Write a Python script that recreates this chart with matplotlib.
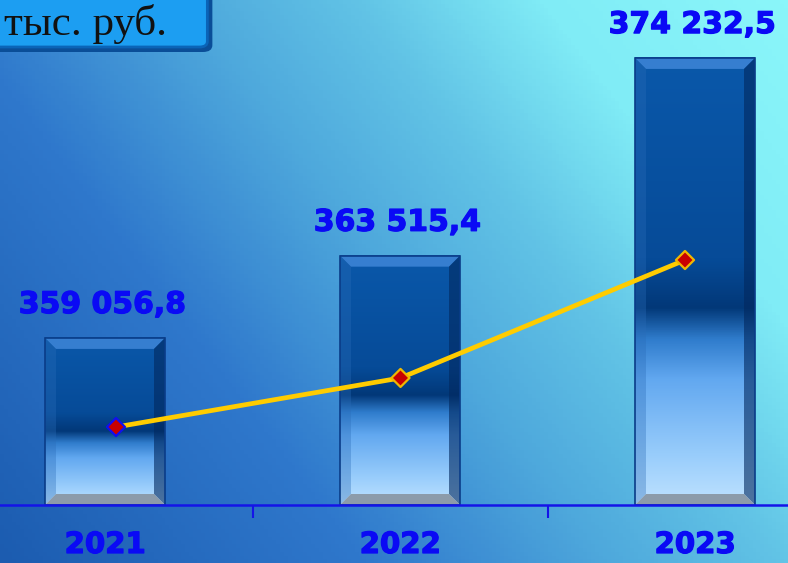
import numpy as np
import matplotlib.pyplot as plt
import matplotlib.patheffects as pe
from matplotlib.colors import LinearSegmentedColormap
from matplotlib.patches import Polygon, FancyBboxPatch, Rectangle

years = ["2021", "2022", "2023"]
values = [359056.8, 363515.4, 374232.5]
labels = ["359 056,8", "363 515,4", "374 232,5"]

W, H = 788, 563
fig = plt.figure(figsize=(W / 100, H / 100), dpi=100)

# background gradient (dark blue bottom-left -> cyan top-right)
bg = fig.add_axes([0, 0, 1, 1], zorder=0)
bg_cmap = LinearSegmentedColormap.from_list("bg", [
    (0.0, "#1c5cb0"), (0.3, "#2f78cc"), (0.5, "#4ea8dc"),
    (0.65, "#62c4e6"), (0.8, "#80ecf6"), (1.0, "#8af6fa")])
gx, gy = np.meshgrid(np.linspace(0, 1, 200), np.linspace(0, 1, 150))
bg.imshow(gx * 0.65 + gy * 0.35, cmap=bg_cmap, origin="lower",
          extent=[0, 1, 0, 1], aspect="auto", vmin=0, vmax=1)
bg.set_xlim(0, 1)
bg.set_ylim(0, 1)
bg.axis("off")

# main axes: baseline at 58 px from bottom, category spacing 295 px
base_px = 58
ax = fig.add_axes([0, base_px / H, 1, 1 - base_px / H], zorder=1)
ax.patch.set_alpha(0)
x = np.arange(len(years))
x_left = -105 / 295
ax.set_xlim(x_left, x_left + W / 295)
ymin = 350000
ymax = ymin + (H - base_px) / 0.01845
ax.set_ylim(ymin, ymax)
px_x = 1 / 295
px_y = 1 / 0.01845

bar_cmap = LinearSegmentedColormap.from_list("bar", [
    (0.0, "#0a58aa"), (0.45, "#064b98"), (0.56, "#023878"),
    (0.63, "#2f7ccc"), (0.72, "#62a8f0"), (0.9, "#9ccffc"), (1.0, "#bfe2ff")])
bw = 120 * px_x
bev_x = 11 * px_x
bev_y = 11 * px_y
grad = np.linspace(0, 1, 256).reshape(-1, 1)
bold = [pe.withStroke(linewidth=0.9, foreground="#0a0af5")]
for xi, v in zip(x, values):
    l, r = xi - bw / 2, xi + bw / 2
    ax.imshow(grad, cmap=bar_cmap, extent=[l, r, ymin, v], aspect="auto",
              vmin=0, vmax=1, zorder=2)
    # bevels
    ax.add_patch(Polygon([[l, v], [r, v], [r - bev_x, v - bev_y], [l + bev_x, v - bev_y]],
                         closed=True, fc="#3f86d8", ec="none", alpha=0.85, zorder=3))
    ax.add_patch(Polygon([[r, v], [r, ymin], [r - bev_x, ymin + bev_y], [r - bev_x, v - bev_y]],
                         closed=True, fc="#02285e", ec="none", alpha=0.6, zorder=3))
    ax.add_patch(Polygon([[l, v], [l, ymin], [l + bev_x, ymin + bev_y], [l + bev_x, v - bev_y]],
                         closed=True, fc="#2a6cb8", ec="none", alpha=0.35, zorder=3))
    ax.add_patch(Polygon([[l, ymin], [r, ymin], [r - bev_x, ymin + bev_y], [l + bev_x, ymin + bev_y]],
                         closed=True, fc="#8a98a6", ec="none", alpha=0.95, zorder=3))
    ax.add_patch(Rectangle((l, ymin), bw, v - ymin, fill=False, ec="#0a3c88", lw=1.2, zorder=4))
    ax.annotate(labels[xi], (xi, v), xytext=(-2, 24),
                textcoords="offset points", ha="center", va="center",
                fontsize=21.5, fontweight="bold", color="#0a0af5", zorder=6,
                path_effects=bold)

for s in ["top", "left", "right"]:
    ax.spines[s].set_visible(False)
ax.spines["bottom"].set_color("#1414e8")
ax.spines["bottom"].set_linewidth(1.8)
ax.spines["bottom"].set_zorder(5)
ax.set_yticks([])
ax.set_xticks([0.5, 1.5])
ax.set_xticklabels([])
ax.tick_params(axis="x", direction="out", length=9, width=1.5, color="#1414e8")
for xi, yr in zip(x, years):
    ax.text(xi, ymin - 40 * px_y, yr, ha="center", va="center", fontsize=21,
            fontweight="bold", color="#0a0af5", clip_on=False, path_effects=bold)

# line on its own (secondary) scale
ax2 = fig.add_axes([0, base_px / H, 1, 1 - base_px / H], zorder=2)
ax2.patch.set_alpha(0)
x2_left = 1 - 400.5 / 284.5
ax2.set_xlim(x2_left, x2_left + W / 284.5)
ax2.set_ylim(351970, 397860)
ax2.axis("off")
ax2.plot(x, values, color="#ffcc00", lw=3.4, zorder=5)
ax2.scatter(x, values, marker="D", s=85, c="#c80000",
            edgecolors=["#1010f0", "#f0b800", "#f0b800"], linewidths=1.6, zorder=6)

# unit box
fig.patches.append(FancyBboxPatch((-0.03, (H - 52) / H), (212 + 24) / W, 60 / H,
                                  boxstyle="round,pad=0,rounding_size=0.012",
                                  transform=fig.transFigure, fc="#0a4e98", ec="none",
                                  zorder=7))
fig.patches.append(FancyBboxPatch((-0.03, (H - 47) / H), (207 + 24) / W, 60 / H,
                                  boxstyle="round,pad=0,rounding_size=0.01",
                                  transform=fig.transFigure, fc="#1c9ef2", ec="#0a64b8",
                                  lw=2, zorder=8))
fig.text(4 / W, 1 - 24 / H, "тыс. руб.", fontsize=31, family="Liberation Serif",
         color="#111111", va="center", ha="left", zorder=9)

fig.savefig("out.png", dpi=100)
